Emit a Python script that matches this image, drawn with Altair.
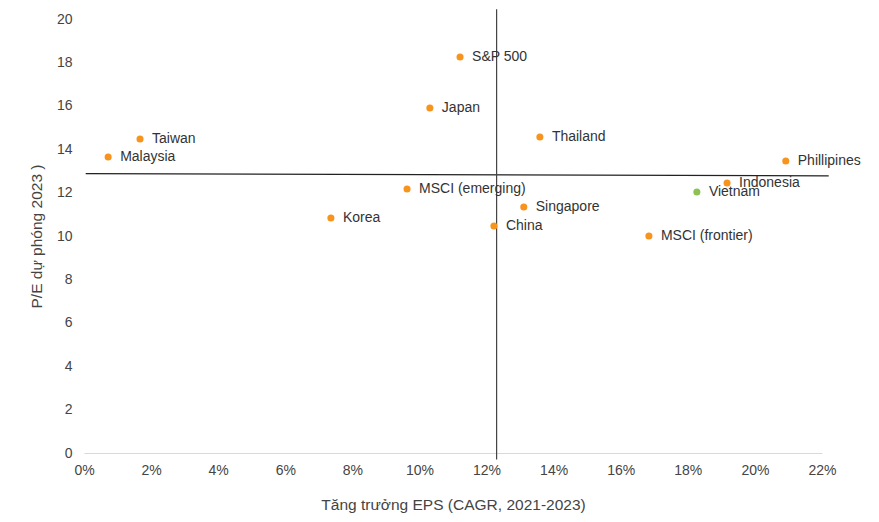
import altair as alt
import pandas as pd

countries = ["Malaysia", "Taiwan", "S&P 500", "Japan", "Thailand", "MSCI (emerging)",
             "Singapore", "China", "Korea", "MSCI (frontier)", "Vietnam", "Indonesia", "Phillipines"]
eps_growth = [0.72, 1.67, 11.21, 10.31, 13.59, 9.63, 13.11, 12.22, 7.36, 16.84, 18.27, 19.17, 20.92]
pe_2023 = [13.64, 14.47, 18.25, 15.9, 14.56, 12.17, 11.34, 10.46, 10.83, 10.0, 12.03, 12.44, 13.46]
groups = ["other"] * 10 + ["vn", "other", "other"]

h_line_x = [0.05, 22.2]
h_line_y = [12.87, 12.77]
v_line_x = [12.3, 12.3]
v_line_y = [20.45, -0.3]

df = pd.DataFrame({"country": countries, "x": [v / 100 for v in eps_growth],
                   "y": pe_2023, "g": groups})
hdf = pd.DataFrame({"x": [v / 100 for v in h_line_x], "y": h_line_y})
vdf = pd.DataFrame({"x": [v / 100 for v in v_line_x], "y": v_line_y})

FONT = "Liberation Sans"

xs = alt.Scale(domain=[0, 0.22], nice=False, zero=False)
ys = alt.Scale(domain=[0, 20], nice=False, zero=False)

xenc = alt.X("x:Q", scale=xs, axis=alt.Axis(
    title="Tăng trưởng EPS (CAGR, 2021-2023)", format=".0%", values=[i / 100 for i in range(0, 23, 2)],
    grid=False, ticks=False, domain=True, domainColor="#d9d9d9", domainWidth=1,
    labelFlush=False, labelOverlap=False,
    labelPadding=10, labelFontSize=14, labelColor="#444444", labelFont=FONT,
    titleFont=FONT, titleFontSize=15.5, titleColor="#444444", titleFontWeight="normal",
    titlePadding=20))
yenc = alt.Y("y:Q", scale=ys, axis=alt.Axis(
    title="P/E dự phóng 2023 )", values=list(range(0, 21, 2)),
    grid=False, ticks=False, domain=False, labelPadding=12, labelFontSize=14,
    labelFlush=False, labelOverlap=False,
    labelColor="#444444", labelFont=FONT, titleFont=FONT, titleFontSize=15.5,
    titleColor="#444444", titleFontWeight="normal", titlePadding=12))

points = alt.Chart(df).mark_circle(size=50, opacity=1).encode(
    x=xenc, y=yenc,
    color=alt.Color("g:N", scale=alt.Scale(domain=["other", "vn"], range=["#F7941D", "#8DC153"]), legend=None),
)
labels = alt.Chart(df).mark_text(align="left", baseline="middle", dx=12, fontSize=14,
                                 font=FONT, color="#333333").encode(
    x=alt.X("x:Q", scale=xs), y=alt.Y("y:Q", scale=ys), text="country:N")

hline = alt.Chart(hdf).mark_line(color="#222222", strokeWidth=1.2, clip=False).encode(
    x=alt.X("x:Q", scale=xs), y=alt.Y("y:Q", scale=ys))
vline = alt.Chart(vdf).mark_line(color="#444444", strokeWidth=1.2, clip=False).encode(
    x=alt.X("x:Q", scale=xs), y=alt.Y("y:Q", scale=ys))

chart = alt.layer(hline, vline, points, labels).properties(
    width=738, height=434,
    autosize=alt.AutoSizeParams(type="none"),
    padding={"left": 76, "top": 11, "right": 49, "bottom": 60},
).configure_view(stroke=None)

chart.save("out.html", embed_options={"renderer": "svg", "actions": False})
